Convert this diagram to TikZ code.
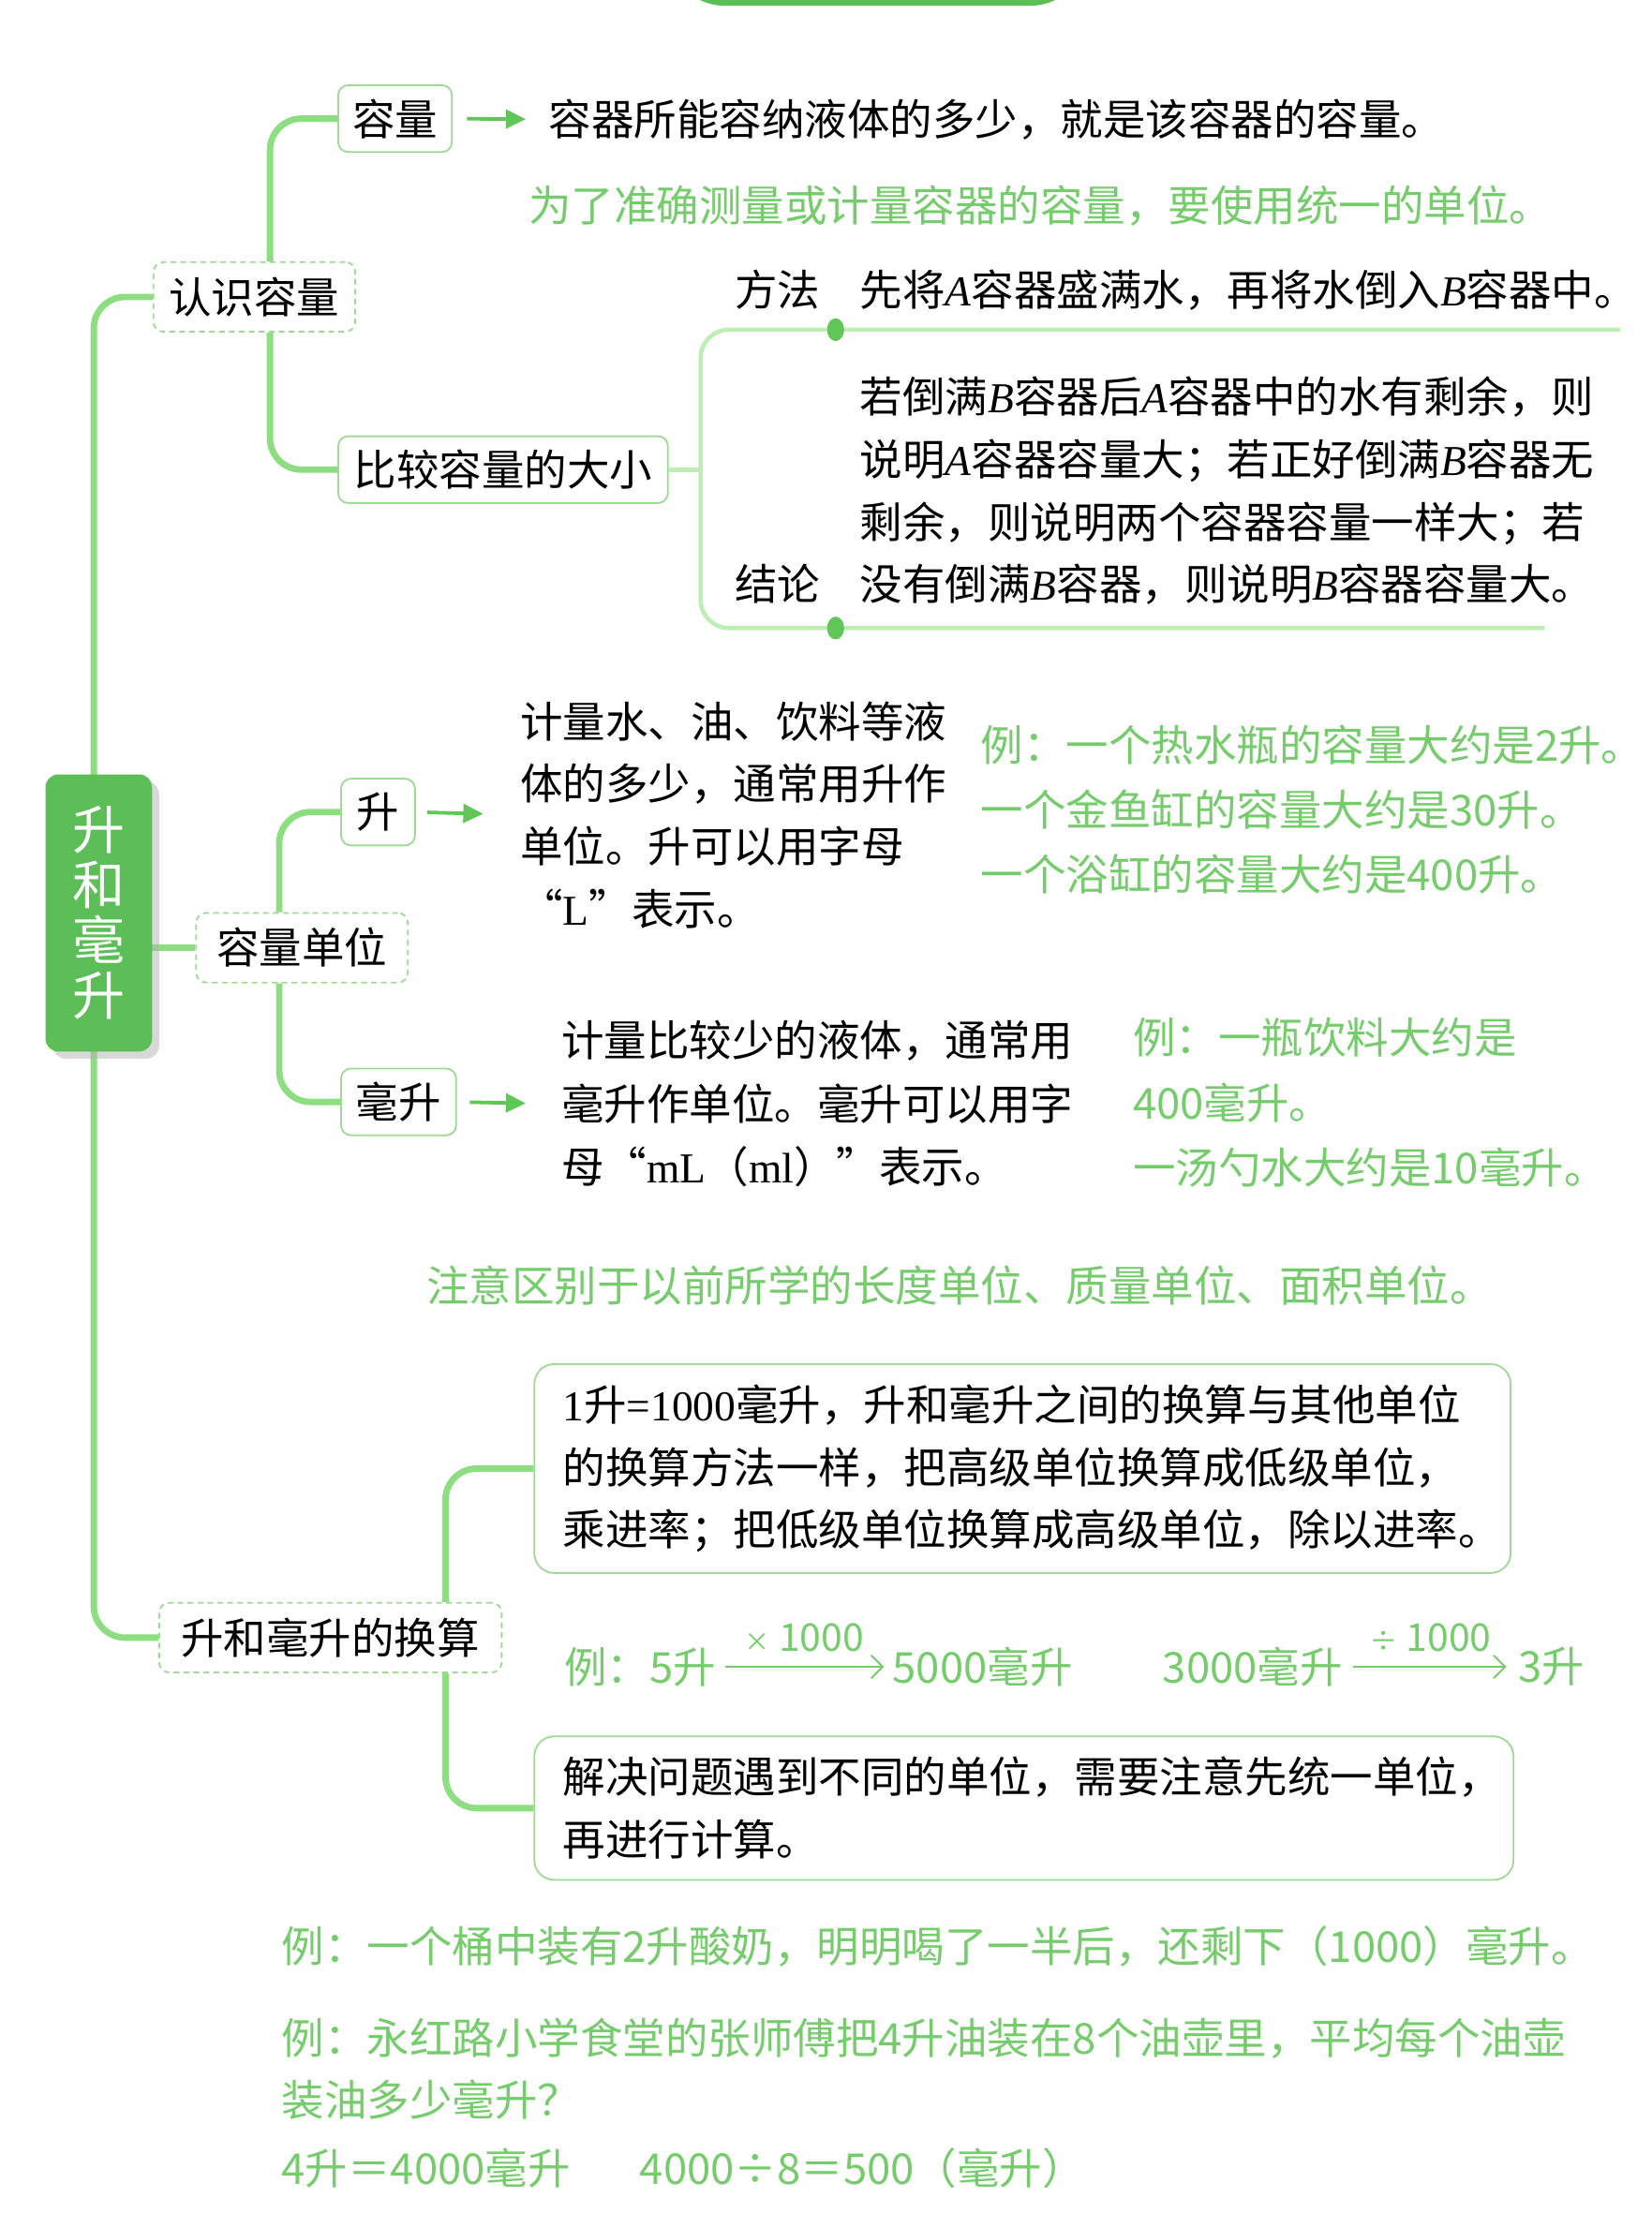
\documentclass[tikz,border=0pt]{standalone}
\usepackage{fontspec}
\setmainfont{Noto Sans CJK SC}
\newfontfamily\latin{Liberation Serif}
\usetikzlibrary{arrows.meta, shadows}

\definecolor{rootgreen}{RGB}{92,190,86}
\definecolor{linegreen}{RGB}{140,222,128}
\definecolor{boxgreen}{RGB}{158,218,148}
\definecolor{hintgreen}{RGB}{118,204,108}
\definecolor{arrowgreen}{RGB}{96,198,88}
\definecolor{palegreen}{RGB}{190,238,180}

\newcommand{\lat}[1]{{\latin #1}}
\newcommand{\Lat}[1]{{\latin\itshape #1}}

\begin{document}
\begin{tikzpicture}[
    x=1pt, y=-1pt,
    font=\fontsize{30}{44}\selectfont,
    root/.style={rectangle, rounded corners=9pt, fill=rootgreen, text=white, align=center,
        minimum width=75pt, minimum height=195pt, inner sep=0pt, font=\fontsize{37}{39}\selectfont,
        drop shadow={shadow xshift=5pt, shadow yshift=-5pt, fill=black!30, opacity=.5}},
    topic/.style={rectangle, draw=boxgreen, dash pattern=on 4pt off 3pt, line width=1.2pt,
        rounded corners=7pt, fill=white, minimum height=49pt, inner sep=0pt},
    leaf/.style={rectangle, draw=boxgreen, line width=1.2pt, rounded corners=7pt, fill=white,
        minimum height=47pt, inner sep=0pt},
    card/.style={rectangle, draw=boxgreen, line width=1.2pt, rounded corners=14pt, fill=white,
        align=left, inner sep=0pt},
    note/.style={anchor=west, align=left, inner sep=0pt},
    hint/.style={note, text=hintgreen},
    rate/.style={above=10pt, text=hintgreen, inner sep=0pt, font=\fontsize{27}{27}\selectfont},
    branch/.style={draw=linegreen, line width=4.5pt, rounded corners=22pt},
    bracket/.style={draw=palegreen, line width=3pt, rounded corners=20pt},
    arr/.style={draw=arrowgreen, line width=2.5pt, -{Triangle[length=14pt, width=13pt]}},
    conv/.style={draw=hintgreen, line width=1.3pt, -{Straight Barb[length=8pt, width=16pt]}}
]

\useasboundingbox (0,0) rectangle (1162,1568);
\fill[white] (0,0) rectangle (1162,1568);

% Title banner, cut off at the top
\begin{scope}
  \clip (0,0) rectangle (1162,1568);
  \fill[rootgreen, rounded corners=40pt] (470,-60) rectangle (765,4);
\end{scope}

% Topic nodes
\node[topic, minimum width=142pt] (know) at (179,209) {认识容量};
\node[topic, minimum width=149pt] (unit) at (212.5,667) {容量单位};
\node[topic, minimum width=241pt] (conv) at (232.5,1152.5) {升和毫升的换算};

% Trunk
\coordinate (spine) at (66,209);
\draw[branch] (know.west) -- (spine) |- (conv.west);
\draw[branch] (unit.west) -- (unit.west -| 100,0);

% Root
\node[root] (root) at (69.5,642.5) {升\\和\\毫\\升};

% Recognising capacity
\node[leaf, minimum width=80pt] (cap) at (278,83.5) {容量};
\node[leaf, minimum width=232pt] (cmp) at (354,330.5) {比较容量的大小};
\draw[branch] ([xshift=11pt]know.north) |- (cap.west);
\draw[branch] ([xshift=11pt]know.south) |- (cmp.west);

\node[note] (capdef) at (386,84) {容器所能容纳液体的多少，就是该容器的容量。};
\draw[arr, shorten <=10pt, shorten >=16pt] (cap.east) -- (capdef.west);
\node[hint] (hint1) at (372,145) {为了准确测量或计量容器的容量，要使用统一的单位。};

% Comparing capacity
\coordinate (brtop) at (1140,232);
\coordinate (brtl) at (493,232);
\coordinate (brbl) at (493,442);
\coordinate (brbot) at (1087,442);
\draw[bracket] (brtop) -- (brtl) -- (brbl) -- (brbot);
\draw[bracket] (cmp.east) -- (cmp.east -| brtl);
\fill[arrowgreen] (588,232) ellipse (6pt and 8pt);
\fill[arrowgreen] (588,442) ellipse (6pt and 8pt);

\node[note] (mlabel) at (517,204) {方法};
\node[note] (mtext) at (605,204) {先将\Lat{A}容器盛满水，再将水倒入\Lat{B}容器中。};
\node[note] (clabel) at (517,411) {结论};
\node[note] (ctext) at (605,345.5) {若倒满\Lat{B}容器后\Lat{A}容器中的水有剩余，则\\说明\Lat{A}容器容量大；若正好倒满\Lat{B}容器无\\剩余，则说明两个容器容量一样大；若\\没有倒满\Lat{B}容器，则说明\Lat{B}容器容量大。};

% Units
\node[leaf, minimum width=52pt] (L) at (266,571.5) {升};
\node[leaf, minimum width=81pt] (mL) at (280.5,775.5) {毫升};
\draw[branch] ([xshift=-16pt]unit.north) |- (L.west);
\draw[branch] ([xshift=-16pt]unit.south) |- (mL.west);

\node[note] (Ldef) at (366,573.5) {计量水、油、饮料等液\\体的多少，通常用升作\\单位。升可以用字母\\“\lat{L}”表示。};
\draw[arr, shorten <=8pt, shorten >=26pt] (L.east) -- (Ldef.west);
\node[hint, font=\fontsize{30}{45.5}\selectfont] (Lex) at (690,569.5) {例：一个热水瓶的容量大约是2升。\\一个金鱼缸的容量大约是30升。\\一个浴缸的容量大约是400升。};

\node[note, font=\fontsize{30}{44.5}\selectfont] (mLdef) at (395,777) {计量比较少的液体，通常用\\毫升作单位。毫升可以用字\\母“\lat{mL}（\lat{ml}）”表示。};
\draw[arr, shorten <=9pt, shorten >=25pt] (mL.east) -- (mLdef.west);
\node[hint, font=\fontsize{30}{46}\selectfont] (mLex) at (797,776) {例：一瓶饮料大约是\\400毫升。\\一汤勺水大约是10毫升。};

\node[hint] (hint2) at (300,905) {注意区别于以前所学的长度单位、质量单位、面积单位。};

% Conversion
\node[card, minimum width=687pt, minimum height=147pt, text width=647pt] (card1) at (719.5,1033.5)
  {\lat{1}升\lat{=1000}毫升，升和毫升之间的换算与其他单位\\的换算方法一样，把高级单位换算成低级单位，\\乘进率；把低级单位换算成高级单位，除以进率。};
\node[card, minimum width=689pt, minimum height=101pt, text width=649pt] (card2) at (720.5,1272.5)
  {解决问题遇到不同的单位，需要注意先统一单位，\\再进行计算。};
\draw[branch] ([xshift=81pt]conv.north) |- (card1.west);
\draw[branch] ([xshift=81pt]conv.south) |- (card2.west);

\node[hint] (ex1) at (397,1173) {例：5升};
\node[hint] (ex2) at (628,1173) {5000毫升};
\node[hint] (ex3) at (818,1173) {3000毫升};
\node[hint] (ex4) at (1068,1173) {3升};
\draw[conv, shorten <=6pt, shorten >=6pt] (ex1.east) -- node[rate] {{\fontsize{18}{18}\selectfont ×} 1000} (ex2.west);
\draw[conv, shorten <=7pt, shorten >=8pt] (ex3.east) -- node[rate] {{\fontsize{20}{20}\selectfont ÷} 1000} (ex4.west);

% Worked examples
\node[hint] (q1) at (198,1370) {例：一个桶中装有2升酸奶，明明喝了一半后，还剩下（1000）毫升。};
\node[hint] (q2) at (198,1456) {例：永红路小学食堂的张师傅把4升油装在8个油壶里，平均每个油壶\\装油多少毫升？};
\node[hint] (a1) at (198,1526) {4升＝4000毫升};
\node[hint] (a2) at (450,1526) {4000÷8＝500（毫升）};

\end{tikzpicture}
\end{document}
